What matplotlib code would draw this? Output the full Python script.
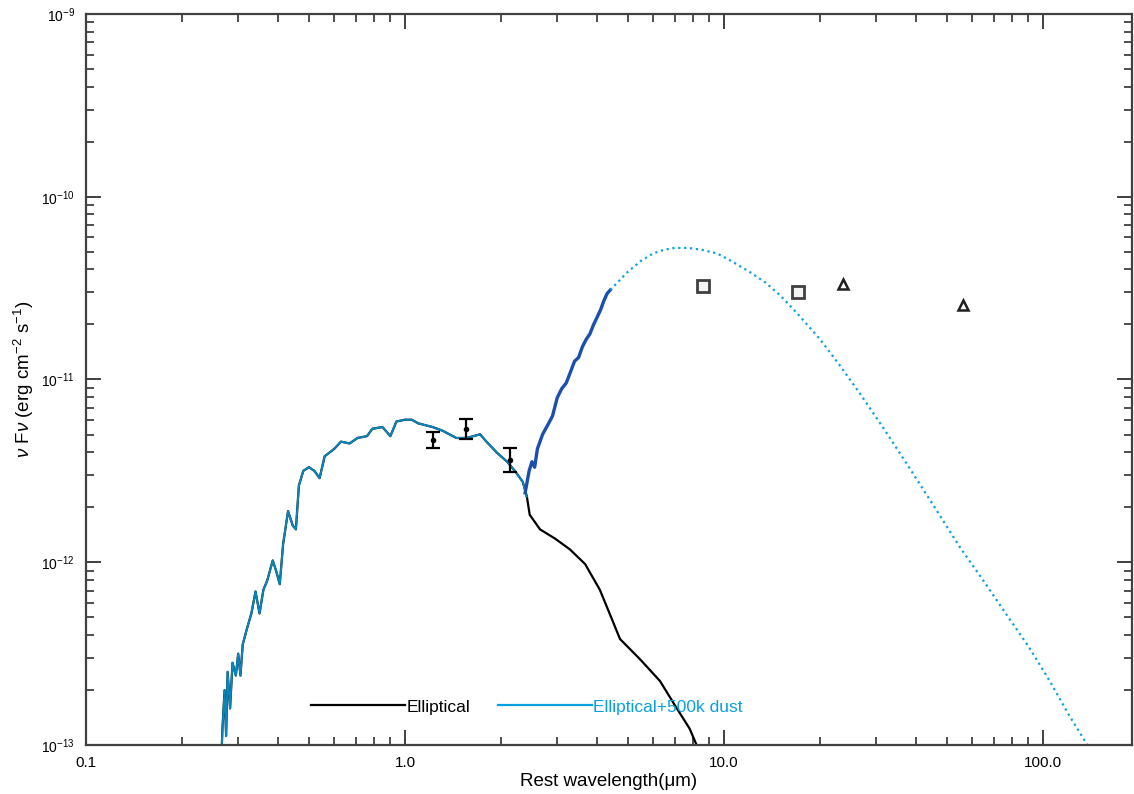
import numpy as np
import matplotlib
matplotlib.use('Agg')
import matplotlib.pyplot as plt
from matplotlib.ticker import LogLocator, FixedLocator, FixedFormatter, NullFormatter

plt.rcParams['font.family'] = ['Liberation Sans', 'DejaVu Sans']
plt.rcParams['mathtext.fontset'] = 'custom'
plt.rcParams['mathtext.rm'] = 'Liberation Sans'
plt.rcParams['mathtext.it'] = 'Liberation Sans:italic'

# stellar template (Elliptical), wavelength in micron, log10 nuFnu
stellar_wl = [0.266, 0.268, 0.272, 0.275, 0.278, 0.283, 0.288, 0.295, 0.300, 0.305,
              0.310, 0.320, 0.330, 0.340, 0.350, 0.360, 0.370, 0.385, 0.395, 0.405,
              0.415, 0.430, 0.445, 0.455, 0.465, 0.48, 0.50, 0.52, 0.54, 0.56,
              0.60, 0.63, 0.67, 0.71, 0.76, 0.79, 0.85, 0.90, 0.94, 1.00,
              1.05, 1.10, 1.22, 1.31, 1.45, 1.56, 1.72, 1.80, 1.94, 2.09,
              2.21, 2.34, 2.41]
stellar_logf = [-13.05, -12.90, -12.70, -12.95, -12.60, -12.80, -12.55, -12.62, -12.50, -12.62,
                -12.45, -12.36, -12.28, -12.16, -12.28, -12.15, -12.10, -11.99, -12.05, -12.12,
                -11.90, -11.72, -11.80, -11.82, -11.58, -11.50, -11.48, -11.50, -11.54, -11.42,
                -11.38, -11.34, -11.35, -11.32, -11.31, -11.27, -11.26, -11.31, -11.23, -11.22,
                -11.22, -11.24, -11.26, -11.28, -11.32, -11.32, -11.30, -11.34, -11.40, -11.45,
                -11.50, -11.56, -11.64]

# stellar tail beyond 2.4 micron (black only)
tail_wl = [2.41, 2.46, 2.65, 2.95, 3.29, 3.67, 4.08, 4.45, 4.72, 5.45, 6.3, 7.0, 7.8, 8.3]
tail_logf = [-11.64, -11.74, -11.82, -11.87, -11.93, -12.01, -12.15, -12.31, -12.42,
             -12.53, -12.65, -12.78, -12.91, -13.02]

# hot dust rise (dark blue)
dust_wl = [2.38, 2.45, 2.50, 2.55, 2.60, 2.70, 2.80, 2.90, 3.00, 3.10, 3.20, 3.30,
           3.40, 3.50, 3.60, 3.70, 3.80, 3.90, 4.00, 4.10, 4.20, 4.30, 4.40]
dust_logf = [-11.62, -11.50, -11.45, -11.48, -11.38, -11.30, -11.25, -11.20, -11.10,
             -11.05, -11.02, -10.96, -10.90, -10.88, -10.82, -10.78, -10.75, -10.70,
             -10.66, -10.62, -10.57, -10.53, -10.51]

# dust continuation (dotted)
bb_wl = [4.4, 5.0, 5.5, 6.0, 6.5, 7.0, 7.7, 8.5, 9.5, 10.5, 12, 13.5, 15, 17, 20, 23,
         27, 32, 38, 45, 55, 65, 75, 90, 105, 120, 140]
bb_logf = [-10.51, -10.41, -10.35, -10.31, -10.29, -10.28, -10.28, -10.29, -10.31, -10.35,
           -10.41, -10.47, -10.54, -10.64, -10.78, -10.92, -11.09, -11.28, -11.48, -11.68,
           -11.92, -12.10, -12.26, -12.46, -12.65, -12.83, -13.02]

# photometry
nir_wl = [1.22, 1.55, 2.13]
nir_logf = [-11.33, -11.27, -11.44]
nir_err = [0.045, 0.055, 0.065]
sq_wl = [8.6, 17.1]
sq_logf = [-10.49, -10.52]
tri_wl = [23.6, 56.0]
tri_logf = [-10.475, -10.59]

BLUE = '#0aa0e0'
DARKBLUE = '#1a4fb0'


def to_flux(logs):
    return 10.0 ** np.array(logs)


fig = plt.figure(figsize=(11.34, 7.94), dpi=100)
ax = fig.add_axes([0.0758, 0.0617, 0.9224, 0.9207])

ax.plot(stellar_wl, to_flux(stellar_logf), color='black', lw=1.6)
ax.plot(tail_wl, to_flux(tail_logf), color='black', lw=1.6, label='Elliptical')
ax.plot(stellar_wl, to_flux(stellar_logf), color=BLUE, lw=1.4, alpha=0.85)
ax.plot(dust_wl, to_flux(dust_logf), color=DARKBLUE, lw=2.4)
ax.plot(bb_wl, to_flux(bb_logf), color=BLUE, lw=1.6, ls=':')
ax.plot([], [], color=BLUE, lw=1.6, label='Elliptical+500k dust')

f = to_flux(nir_logf)
lo = f - to_flux(np.array(nir_logf) - np.array(nir_err))
hi = to_flux(np.array(nir_logf) + np.array(nir_err)) - f
ax.errorbar(nir_wl, f, yerr=[lo, hi], fmt='o', ms=3, color='black', ecolor='black',
            elinewidth=1.6, capsize=5, capthick=1.6)
ax.plot(sq_wl, to_flux(sq_logf), 's', ms=8, mfc='#f4f4f4', mec='#404040', mew=2)
ax.plot(tri_wl, to_flux(tri_logf), '^', ms=7, mfc='white', mec='#202020', mew=1.8)

ax.set_xscale('log')
ax.set_yscale('log')
ax.set_xlim(0.1, 190)
ax.set_ylim(1e-13, 1e-9)

ax.xaxis.set_major_locator(FixedLocator([0.1, 1.0, 10.0, 100.0]))
ax.xaxis.set_major_formatter(FixedFormatter(['0.1', '1.0', '10.0', '100.0']))
ax.xaxis.set_minor_locator(LogLocator(base=10, subs=np.arange(2, 10), numticks=20))
ax.xaxis.set_minor_formatter(NullFormatter())
ax.yaxis.set_major_locator(FixedLocator([1e-13, 1e-12, 1e-11, 1e-10, 1e-9]))
ax.yaxis.set_major_formatter(FixedFormatter([r'$10^{-13}$', r'$10^{-12}$', r'$10^{-11}$',
                                             r'$10^{-10}$', r'$10^{-9}$']))
ax.yaxis.set_minor_locator(LogLocator(base=10, subs=np.arange(2, 10), numticks=20))
ax.yaxis.set_minor_formatter(NullFormatter())

ax.tick_params(which='both', direction='in', top=True, right=True, color='#303030')
ax.tick_params(which='major', length=11, width=1.3, pad=8)
ax.tick_params(axis='x', which='major', labelsize=11)
ax.tick_params(axis='y', which='major', labelsize=10)
ax.tick_params(which='minor', length=6, width=1.2)
for s in ax.spines.values():
    s.set_linewidth(1.6)
    s.set_color('#404040')

ax.set_xlabel('Rest wavelength(\u03bcm)', fontsize=13.5, labelpad=2)
ax.set_ylabel(r'$\nu$ F$\nu$ (erg cm$^{-2}$ s$^{-1}$)', fontsize=13.5, labelpad=4)

leg = ax.legend(loc='center left', bbox_to_anchor=(0.215, 0.052), ncol=2, frameon=False,
                handlelength=5.4, handletextpad=0.1, columnspacing=1.6, fontsize=12.5,
                borderpad=0, borderaxespad=0)
for t, c in zip(leg.get_texts(), ['black', BLUE]):
    t.set_color(c)

fig.savefig('out.png', dpi=100)
